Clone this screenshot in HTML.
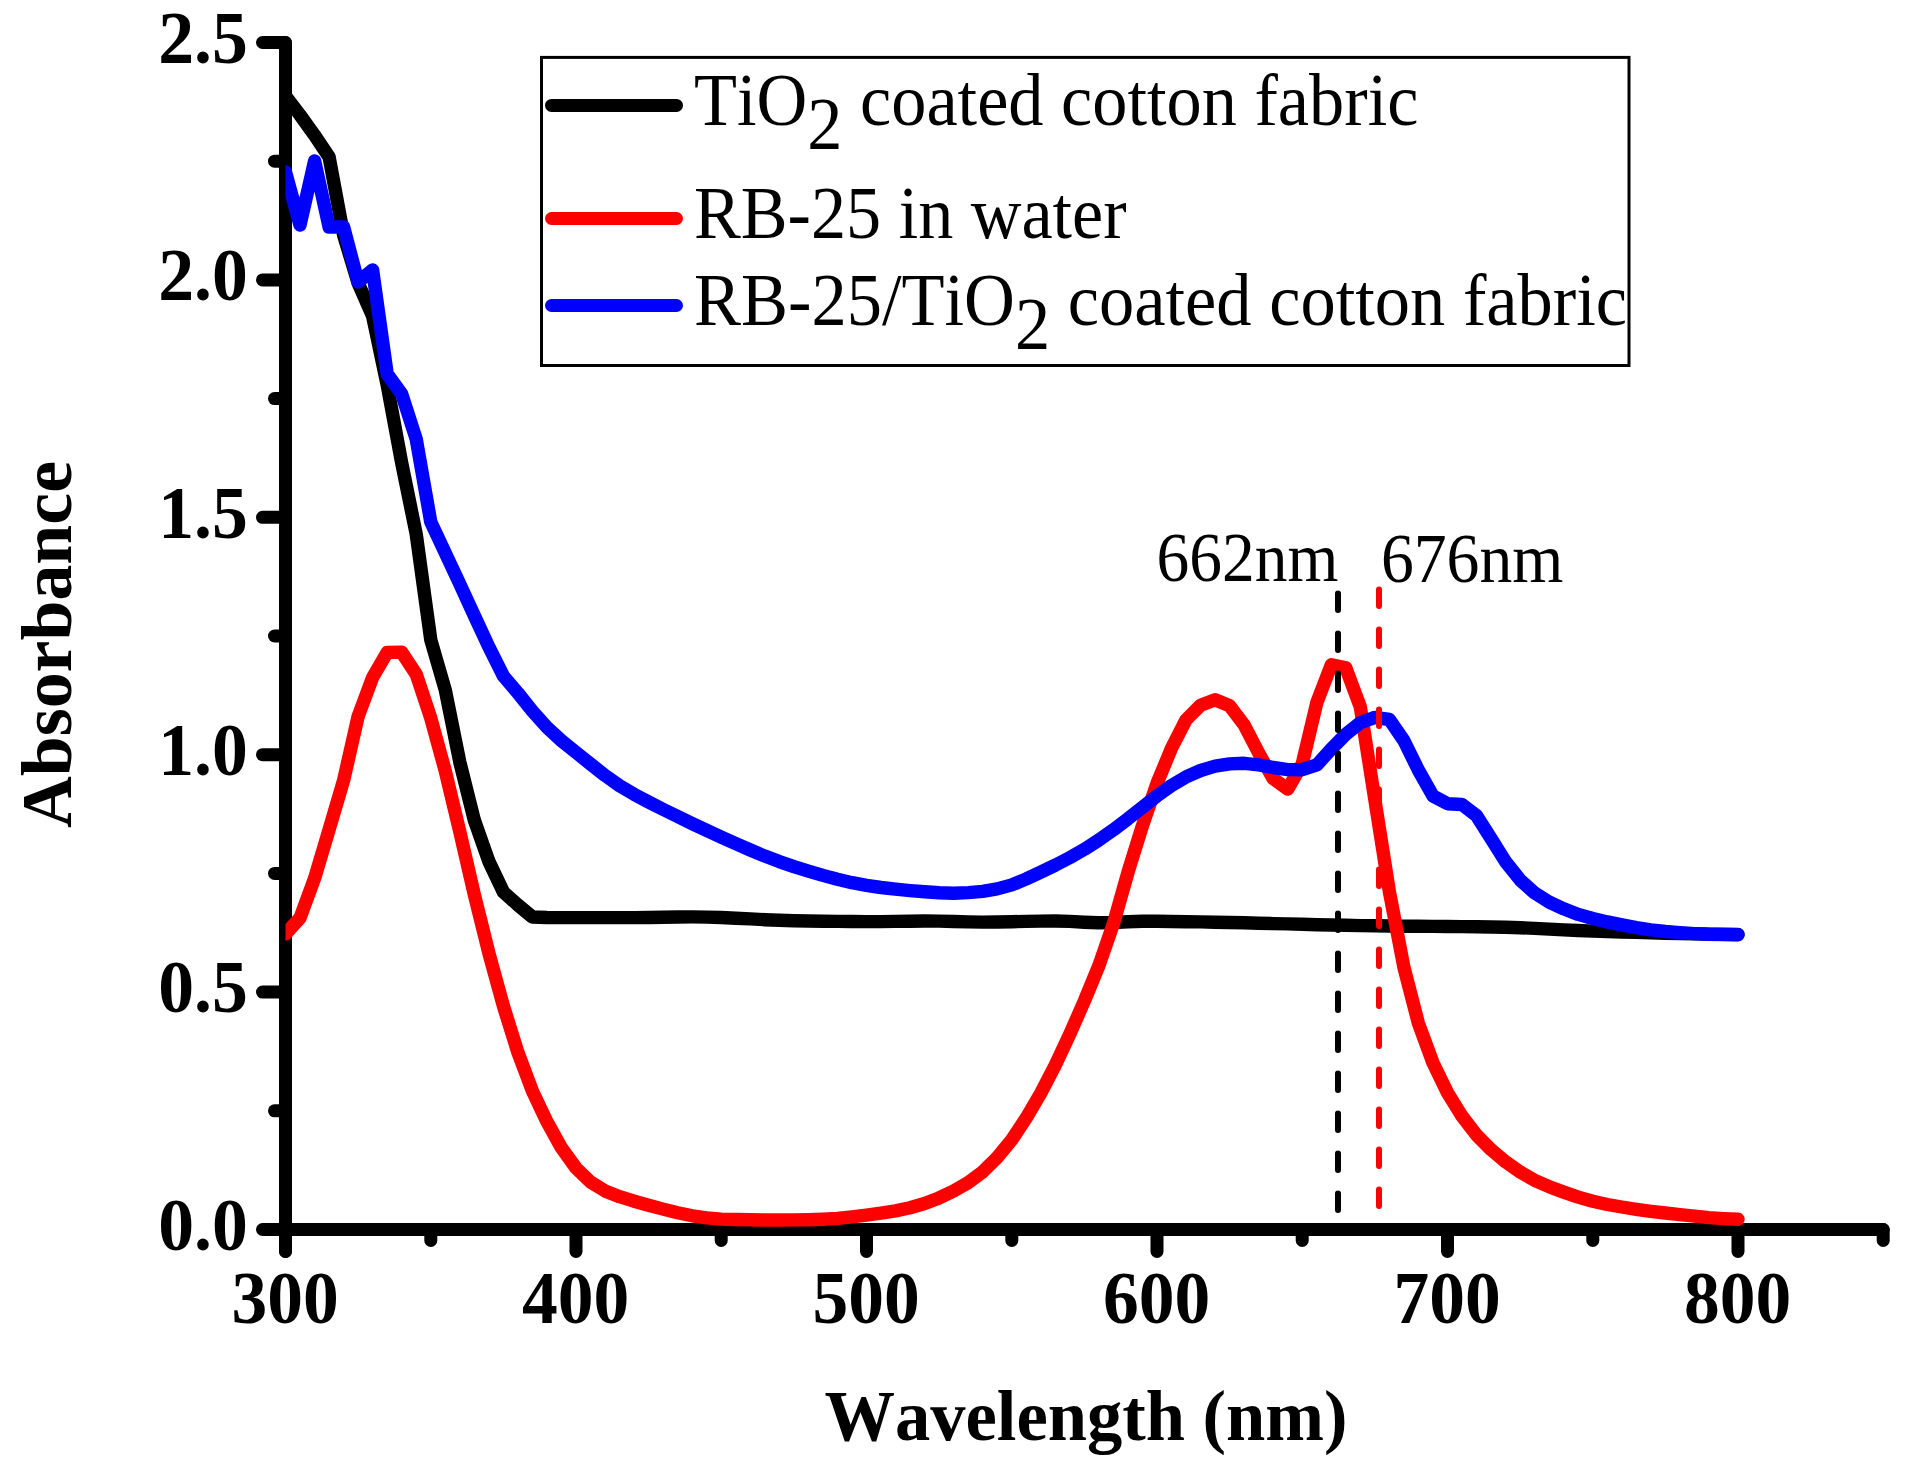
<!DOCTYPE html>
<html><head><meta charset="utf-8"><title>UV-Vis absorbance</title>
<style>
html,body{margin:0;padding:0;background:#fff;}
body{width:1905px;height:1471px;overflow:hidden;}
svg{display:block;}
text{font-family:"Liberation Serif","Times New Roman",serif;fill:#000;font-kerning:none;}
.b{font-weight:bold;font-size:72.5px;}
.r{font-size:74.5px;}
</style></head><body>
<svg width="1905" height="1471" viewBox="0 0 1905 1471">
<defs><clipPath id="cp"><rect x="285.5" y="0" width="1700" height="1300"/></clipPath></defs>
<rect width="1905" height="1471" fill="#fff"/>
<g stroke="#000" stroke-width="13" stroke-linecap="round" stroke-linejoin="round" fill="none">
<path d="M285.5,1251.5 L285.5,42.5"/>
<path d="M285.5,1229.5 L1883.2,1229.5"/>
<line x1="262.5" y1="1229.5" x2="285.5" y2="1229.5"/>
<line x1="274.5" y1="1110.8" x2="285.5" y2="1110.8"/>
<line x1="262.5" y1="992.1" x2="285.5" y2="992.1"/>
<line x1="274.5" y1="873.4" x2="285.5" y2="873.4"/>
<line x1="262.5" y1="754.7" x2="285.5" y2="754.7"/>
<line x1="274.5" y1="636.0" x2="285.5" y2="636.0"/>
<line x1="262.5" y1="517.3" x2="285.5" y2="517.3"/>
<line x1="274.5" y1="398.6" x2="285.5" y2="398.6"/>
<line x1="262.5" y1="279.9" x2="285.5" y2="279.9"/>
<line x1="274.5" y1="161.2" x2="285.5" y2="161.2"/>
<line x1="262.5" y1="42.5" x2="285.5" y2="42.5"/>
<line x1="285.5" y1="1229.5" x2="285.5" y2="1251.5"/>
<line x1="430.8" y1="1229.5" x2="430.8" y2="1240.5"/>
<line x1="576.0" y1="1229.5" x2="576.0" y2="1251.5"/>
<line x1="721.2" y1="1229.5" x2="721.2" y2="1240.5"/>
<line x1="866.5" y1="1229.5" x2="866.5" y2="1251.5"/>
<line x1="1011.8" y1="1229.5" x2="1011.8" y2="1240.5"/>
<line x1="1157.0" y1="1229.5" x2="1157.0" y2="1251.5"/>
<line x1="1302.2" y1="1229.5" x2="1302.2" y2="1240.5"/>
<line x1="1447.5" y1="1229.5" x2="1447.5" y2="1251.5"/>
<line x1="1592.8" y1="1229.5" x2="1592.8" y2="1240.5"/>
<line x1="1738.0" y1="1229.5" x2="1738.0" y2="1251.5"/>
<line x1="1883.2" y1="1229.5" x2="1883.2" y2="1240.5"/>
</g>
<text class="b" transform="translate(247.7,1249.8) scale(0.96,1)" text-anchor="end" style="font-size:74.6px">0.0</text>
<text class="b" transform="translate(247.7,1012.4) scale(0.96,1)" text-anchor="end" style="font-size:74.6px">0.5</text>
<text class="b" transform="translate(247.7,775.0) scale(0.96,1)" text-anchor="end" style="font-size:74.6px">1.0</text>
<text class="b" transform="translate(247.7,537.6) scale(0.96,1)" text-anchor="end" style="font-size:74.6px">1.5</text>
<text class="b" transform="translate(247.7,300.2) scale(0.96,1)" text-anchor="end" style="font-size:74.6px">2.0</text>
<text class="b" transform="translate(247.7,62.8) scale(0.96,1)" text-anchor="end" style="font-size:74.6px">2.5</text>
<text class="b" transform="translate(285.2,1322.7) scale(0.958,1)" text-anchor="middle" style="font-size:74.6px">300</text>
<text class="b" transform="translate(575.7,1322.7) scale(0.958,1)" text-anchor="middle" style="font-size:74.6px">400</text>
<text class="b" transform="translate(866.2,1322.7) scale(0.958,1)" text-anchor="middle" style="font-size:74.6px">500</text>
<text class="b" transform="translate(1156.7,1322.7) scale(0.958,1)" text-anchor="middle" style="font-size:74.6px">600</text>
<text class="b" transform="translate(1447.2,1322.7) scale(0.958,1)" text-anchor="middle" style="font-size:74.6px">700</text>
<text class="b" transform="translate(1737.7,1322.7) scale(0.958,1)" text-anchor="middle" style="font-size:74.6px">800</text>
<text class="b" transform="translate(1086,1440) scale(0.9728,1)" text-anchor="middle">Wavelength (nm)</text>
<text class="b" transform="translate(70.5,644.5) rotate(-90) scale(0.9908,1)" text-anchor="middle">Absorbance</text>
<g clip-path="url(#cp)" fill="none" stroke-width="13.4" stroke-linecap="round" stroke-linejoin="round">
<path stroke="#000" d="M285.5,96.0 L300.0,115.0 L314.6,135.3 L329.1,157.0 L343.6,235.0 L358.1,283.0 L372.6,316.0 L387.2,385.0 L401.7,463.0 L416.2,534.0 L430.8,640.0 L445.3,690.0 L459.8,762.0 L474.3,820.0 L488.9,861.5 L503.4,892.0 L517.9,905.0 L532.4,917.0 L547.0,917.5 L561.5,917.6 L576.0,917.6 L590.5,917.6 L605.0,917.6 L619.6,917.6 L634.1,917.6 L648.6,917.5 L663.1,917.3 L677.7,917.0 L692.2,916.9 L706.7,917.1 L721.2,917.5 L735.8,918.2 L750.3,918.9 L764.8,919.7 L779.3,920.3 L793.9,920.7 L808.4,921.0 L822.9,921.2 L837.4,921.4 L852.0,921.5 L866.5,921.6 L881.0,921.6 L895.5,921.4 L910.1,921.2 L924.6,921.0 L939.1,921.1 L953.6,921.5 L968.2,921.9 L982.7,922.1 L997.2,922.0 L1011.8,921.7 L1026.3,921.4 L1040.8,921.1 L1055.3,921.0 L1069.8,921.4 L1084.4,922.2 L1098.9,922.8 L1113.4,922.5 L1127.9,921.7 L1142.5,921.3 L1157.0,921.3 L1171.5,921.5 L1186.0,921.7 L1200.6,921.9 L1215.1,922.2 L1229.6,922.5 L1244.2,922.8 L1258.7,923.2 L1273.2,923.6 L1287.7,923.9 L1302.2,924.3 L1316.8,924.7 L1331.3,925.0 L1345.8,925.3 L1360.3,925.6 L1374.9,925.8 L1389.4,926.0 L1403.9,926.2 L1418.4,926.3 L1433.0,926.4 L1447.5,926.5 L1462.0,926.6 L1476.5,926.8 L1491.1,927.0 L1505.6,927.2 L1520.1,927.7 L1534.6,928.4 L1549.2,929.1 L1563.7,929.9 L1578.2,930.5 L1592.8,931.1 L1607.3,931.5 L1621.8,932.0 L1636.3,932.4 L1650.8,932.8 L1665.4,933.2 L1679.9,933.5 L1694.4,933.8 L1708.9,934.1 L1723.5,934.3 L1738.0,934.5"/>
<path stroke="#f00" d="M285.5,934.0 L300.0,918.0 L314.6,878.3 L329.1,829.6 L343.6,780.4 L358.1,716.5 L372.6,677.5 L387.2,652.4 L401.7,652.2 L416.2,674.2 L430.8,718.2 L445.3,771.1 L459.8,831.8 L474.3,894.5 L488.9,953.2 L503.4,1006.0 L517.9,1052.4 L532.4,1091.0 L547.0,1121.8 L561.5,1147.9 L576.0,1168.0 L590.5,1182.0 L605.0,1190.9 L619.6,1196.7 L634.1,1201.2 L648.6,1205.2 L663.1,1209.1 L677.7,1212.8 L692.2,1215.8 L706.7,1217.9 L721.2,1219.1 L735.8,1219.5 L750.3,1219.8 L764.8,1220.0 L779.3,1220.0 L793.9,1219.9 L808.4,1219.7 L822.9,1219.2 L837.4,1218.4 L852.0,1216.9 L866.5,1215.1 L881.0,1213.1 L895.5,1210.9 L910.1,1207.7 L924.6,1203.5 L939.1,1197.9 L953.6,1191.0 L968.2,1182.6 L982.7,1171.8 L997.2,1157.5 L1011.8,1139.7 L1026.3,1117.8 L1040.8,1093.2 L1055.3,1065.2 L1069.8,1034.1 L1084.4,1000.9 L1098.9,965.6 L1113.4,923.8 L1127.9,872.6 L1142.5,825.6 L1157.0,783.4 L1171.5,748.3 L1186.0,719.9 L1200.6,705.2 L1215.1,699.7 L1229.6,705.8 L1244.2,725.0 L1258.7,753.0 L1273.2,778.6 L1287.7,789.1 L1302.2,764.0 L1316.8,702.7 L1331.3,664.8 L1345.8,667.9 L1360.3,706.9 L1374.9,800.0 L1389.4,891.7 L1403.9,967.2 L1418.4,1023.2 L1433.0,1062.9 L1447.5,1092.7 L1462.0,1116.2 L1476.5,1135.0 L1491.1,1149.7 L1505.6,1161.8 L1520.1,1171.9 L1534.6,1180.3 L1549.2,1186.7 L1563.7,1192.1 L1578.2,1197.1 L1592.8,1201.3 L1607.3,1204.5 L1621.8,1207.0 L1636.3,1209.3 L1650.8,1211.3 L1665.4,1213.0 L1679.9,1214.6 L1694.4,1216.2 L1708.9,1217.6 L1723.5,1218.6 L1738.0,1219.3"/>
<path stroke="#00f" d="M285.5,172.0 L300.0,225.0 L314.6,161.0 L329.1,227.0 L343.6,227.0 L358.1,282.0 L372.6,270.0 L387.2,374.0 L401.7,394.0 L416.2,439.0 L430.8,522.0 L445.3,553.0 L459.8,584.0 L474.3,615.6 L488.9,647.0 L503.4,676.0 L517.9,693.0 L532.4,711.1 L547.0,727.4 L561.5,740.7 L576.0,752.4 L590.5,764.0 L605.0,775.4 L619.6,785.7 L634.1,794.3 L648.6,802.0 L663.1,809.4 L677.7,816.6 L692.2,823.6 L706.7,830.4 L721.2,837.1 L735.8,843.6 L750.3,850.0 L764.8,856.1 L779.3,861.6 L793.9,866.6 L808.4,871.1 L822.9,875.4 L837.4,879.3 L852.0,882.7 L866.5,885.4 L881.0,887.5 L895.5,889.2 L910.1,890.6 L924.6,891.8 L939.1,892.8 L953.6,893.2 L968.2,892.6 L982.7,891.3 L997.2,888.9 L1011.8,884.9 L1026.3,878.9 L1040.8,872.1 L1055.3,865.1 L1069.8,857.6 L1084.4,849.3 L1098.9,840.0 L1113.4,829.8 L1127.9,818.8 L1142.5,807.2 L1157.0,795.9 L1171.5,785.5 L1186.0,776.9 L1200.6,770.5 L1215.1,766.2 L1229.6,763.9 L1244.2,763.3 L1258.7,764.8 L1273.2,767.5 L1287.7,769.6 L1302.2,769.7 L1316.8,764.9 L1331.3,749.0 L1345.8,734.3 L1360.3,722.7 L1374.9,717.4 L1389.4,719.5 L1403.9,740.6 L1418.4,770.1 L1433.0,796.0 L1447.5,803.7 L1462.0,804.5 L1476.5,815.6 L1491.1,838.7 L1505.6,861.8 L1520.1,879.9 L1534.6,892.9 L1549.2,902.1 L1563.7,908.8 L1578.2,914.4 L1592.8,918.5 L1607.3,921.9 L1621.8,924.9 L1636.3,927.7 L1650.8,929.9 L1665.4,931.5 L1679.9,932.6 L1694.4,933.6 L1708.9,934.3 L1723.5,934.6 L1738.0,934.7"/>
</g>
<g fill="none" stroke-width="6" stroke-linecap="round">
<line x1="1338" y1="593.5" x2="1338" y2="1215" stroke="#000" stroke-dasharray="16.5 23.5"/>
<line x1="1379" y1="589.5" x2="1379" y2="1211" stroke="#f00" stroke-dasharray="16.5 23.5"/>
</g>
<text class="r" transform="translate(1156.5,581.2) scale(0.9357,1)" text-anchor="start" style="font-size:70px">662nm</text>
<text class="r" transform="translate(1380.9,582.1) scale(0.9386,1)" text-anchor="start" style="font-size:70px">676nm</text>
<rect x="541.5" y="57.4" width="1087.5" height="308.1" fill="#fff" stroke="#000" stroke-width="3"/>
<g fill="none" stroke-width="13" stroke-linecap="round">
<line x1="551.5" y1="105.4" x2="676.5" y2="105.4" stroke="#000"/>
<line x1="551.5" y1="218.5" x2="676.5" y2="218.5" stroke="#f00"/>
<line x1="551.5" y1="305.5" x2="676.5" y2="305.5" stroke="#00f"/>
</g>
<text class="r" transform="translate(694,125) scale(0.944,1)" text-anchor="start">TiO<tspan dy="23.8">2</tspan><tspan dy="-23.8"> coated cotton fabric</tspan></text>
<text class="r" transform="translate(694,238) scale(0.942,1)" text-anchor="start">RB-25 in water</text>
<text class="r" transform="translate(694,325) scale(0.9456,1)" text-anchor="start">RB-25/TiO<tspan dy="23.8">2</tspan><tspan dy="-23.8"> coated cotton fabric</tspan></text>
</svg>
</body></html>
